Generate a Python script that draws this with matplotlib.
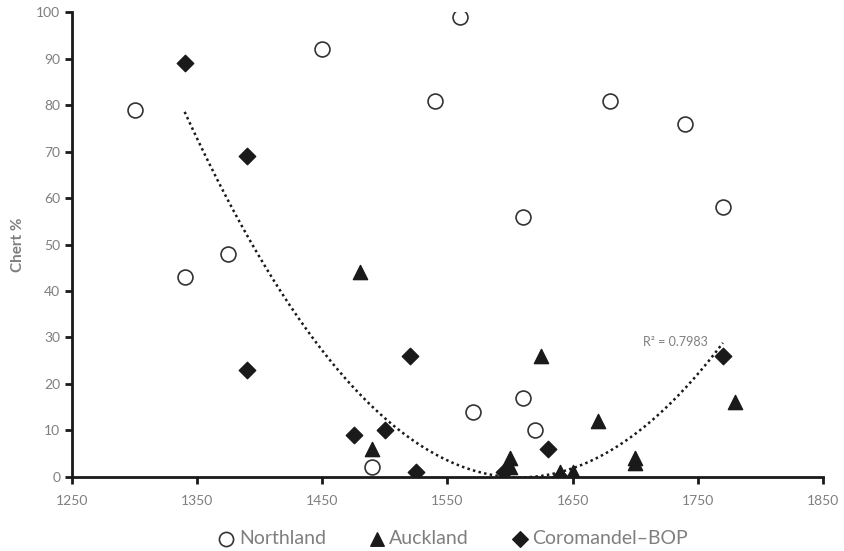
from matplotlib import pyplot as plt
import numpy as np

plt.rcParams['font.family'] = ['Lato', 'DejaVu Sans']

# Northland
north_x = [1300, 1340, 1375, 1450, 1490, 1540, 1560, 1570, 1610, 1610, 1620, 1680, 1740, 1770]
north_y = [79, 43, 48, 92, 2, 81, 99, 14, 56, 17, 10, 81, 76, 58]

# Auckland
auck_x = [1480, 1490, 1600, 1600, 1625, 1640, 1650, 1670, 1700, 1700, 1780]
auck_y = [44, 6, 4, 2, 26, 1, 1, 12, 4, 3, 16]

# Coromandel-BOP
coro_x = [1340, 1390, 1390, 1475, 1500, 1520, 1525, 1595, 1630, 1640, 1770]
coro_y = [89, 69, 23, 9, 10, 26, 1, 1, 6, 0, 26]

x_ticks = [1250, 1350, 1450, 1550, 1650, 1750, 1850]
y_ticks = [0, 10, 20, 30, 40, 50, 60, 70, 80, 90, 100]
r2_text = 'R² = 0.7983'

gris = '#7f7f7f'
negro = '#1a1a1a'

fig, ax = plt.subplots(figsize=(8.45, 5.51), dpi=100)
fig.subplots_adjust(left=72/845, right=823/845, bottom=74.3/551, top=538.7/551)

# tendencia polinomial (orden 2) sobre Coromandel-BOP
coef = np.polyfit(coro_x, coro_y, 2)
xt = np.linspace(min(coro_x), max(coro_x), 200)
ax.plot(xt, np.polyval(coef, xt), color=negro, lw=1.8, linestyle=(0, (1, 1.3)), zorder=2)

ax.scatter(north_x, north_y, s=115, marker='o', facecolor='white', edgecolor='#333333',
           linewidth=1.2, label='Northland', zorder=3)
ax.scatter(auck_x, auck_y, s=105, marker='^', color=negro, label='Auckland', zorder=3)
ax.scatter(coro_x, coro_y, s=70, marker='D', color=negro, label='Coromandel–BOP', zorder=3)

ax.text(1758, 29, r2_text, ha='right', va='center', fontsize=9, color=gris)

ax.set_xlim(1250, 1850)
ax.set_ylim(0, 100)
ax.set_xticks(x_ticks)
ax.set_yticks(y_ticks)
ax.tick_params(axis='both', colors=negro, labelcolor=gris, labelsize=10, width=2, length=5)
ax.tick_params(axis='x', pad=8)
for s in ['top', 'right']:
    ax.spines[s].set_visible(False)
for s in ['left', 'bottom']:
    ax.spines[s].set_linewidth(2)
    ax.spines[s].set_color(negro)

ax.set_ylabel('Chert %', fontsize=11, fontweight='bold', color=gris, labelpad=8)

ax.legend(loc='lower center', bbox_to_anchor=(0.5, -0.19), ncol=3, frameon=False,
          fontsize=14, labelcolor=gris, handletextpad=-0.35, columnspacing=1.6,
          markerscale=0.95)

plt.savefig('out.png')
